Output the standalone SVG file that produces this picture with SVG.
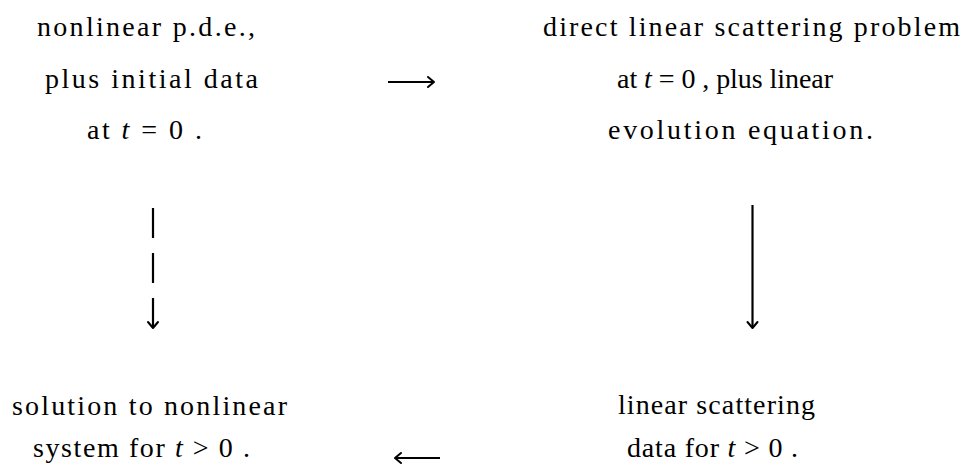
<svg xmlns="http://www.w3.org/2000/svg" width="967" height="470" viewBox="0 0 967 470">
<style>
text{font-family:"Liberation Serif","DejaVu Serif",serif;font-size:28px;fill:#000}
.i{font-style:italic}
.c{stroke:#000;stroke-width:2.2;fill:none}
.h{stroke:#000;stroke-width:2;fill:none;stroke-linecap:round;stroke-linejoin:round}
</style>
<rect width="967" height="470" fill="#fff"/>
<g id="n1">
<text x="37" y="36" textLength="218" lengthAdjust="spacing">nonlinear p.d.e.,</text>
<text x="45" y="88" textLength="213" lengthAdjust="spacing">plus initial data</text>
<text x="87" y="139" textLength="115" lengthAdjust="spacing">at <tspan class="i">t</tspan> = 0 .</text>
</g>
<g id="n2">
<text x="543" y="36" textLength="417" lengthAdjust="spacing">direct linear scattering problem</text>
<text x="617" y="88" textLength="216" lengthAdjust="spacing">at <tspan class="i">t</tspan> = 0 , plus linear</text>
<text x="608" y="139" textLength="265" lengthAdjust="spacing">evolution equation.</text>
</g>
<g id="n3">
<text x="12" y="415" textLength="275" lengthAdjust="spacing">solution to nonlinear</text>
<text x="33" y="457" textLength="217" lengthAdjust="spacing">system for <tspan class="i">t</tspan> &gt; 0 .</text>
</g>
<g id="n4">
<text x="618" y="414" textLength="197" lengthAdjust="spacing">linear scattering</text>
<text x="627" y="457" textLength="171" lengthAdjust="spacing">data for <tspan class="i">t</tspan> &gt; 0 .</text>
</g>
<g id="connectors">
<line class="c" x1="388" y1="82" x2="433" y2="82"/>
<path class="h" d="M428,77 L434,82 L428,87"/>
<line class="c" x1="153" y1="208" x2="153" y2="238"/>
<line class="c" x1="153" y1="253" x2="153" y2="283"/>
<line class="c" x1="153" y1="298" x2="153" y2="328"/>
<path class="h" d="M148,322 L153,328 L158,322"/>
<line class="c" x1="752.5" y1="205" x2="752.5" y2="328"/>
<path class="h" d="M747.5,322 L752.5,328 L757.5,322"/>
<line class="c" x1="396" y1="458" x2="440" y2="458"/>
<path class="h" d="M401,453 L395,458 L401,463"/>
</g>
</svg>
